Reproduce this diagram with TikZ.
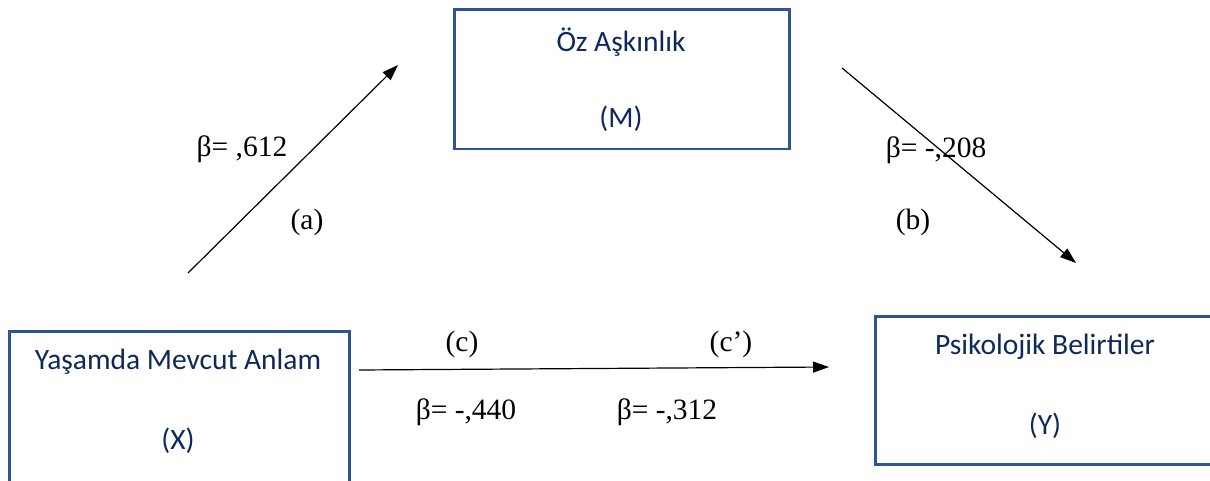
\documentclass[tikz,border=0pt]{standalone}
\usepackage{fontspec}
\setmainfont{Liberation Serif}
\newfontfamily\boxfont{Carlito}
\usetikzlibrary{arrows.meta}
\definecolor{boxborder}{RGB}{47,84,150}
\definecolor{boxtext}{RGB}{14,40,94}
\tikzset{
  varbox/.style={draw=boxborder, line width=2.5pt, fill=none},
  boxlabel/.style={font=\boxfont\fontsize{29.5}{34}\selectfont, text=boxtext, inner sep=0pt},
  coef/.style={font=\fontsize{29.5}{34}\selectfont, text=black, inner sep=0pt},
  path/.style={draw=black, line width=1.2pt, -{Triangle[length=16pt,width=11pt]}}
}
\begin{document}
\begin{tikzpicture}[x=1pt,y=-1pt]
\useasboundingbox (0,0) rectangle (1210,481);
\begin{scope}
\clip (0,0) rectangle (1210,481);
% boxes
\node[varbox, minimum width=335pt, minimum height=139.5pt, anchor=north west] (M) at (453,8.5) {};
\node[varbox, minimum width=340pt, minimum height=180pt, anchor=north west] (X) at (8,330) {};
\node[varbox, minimum width=345pt, minimum height=148pt, anchor=north west] (Y) at (874,315) {};
\end{scope}
% box texts
\node[boxlabel] (Mt) at (621,42) {Öz Aşkınlık};
\node[boxlabel] (Mv) at (621,119) {(M)};
\node[boxlabel] (Xt) at (178,362) {Yaşamda Mevcut Anlam};
\node[boxlabel] (Xv) at (178,441) {(X)};
\node[boxlabel] (Yt) at (1045,347) {Psikolojik Belirtiler};
\node[boxlabel] (Yv) at (1045,426) {(Y)};
% connector end points
\coordinate (aS) at (188,273);
\coordinate (aE) at (398,65);
\coordinate (bS) at (842,68);
\coordinate (bE) at (1076,263);
\coordinate (cS) at (359,370);
\coordinate (cE) at (829,367);
\draw[path] (aS) -- (aE);
\draw[path] (bS) -- (bE);
\draw[path] (cS) -- (cE);
% coefficients
\node[coef] (la) at (242,149) {β= ,612};
\node[coef] (pa) at (307,222) {(a)};
\node[coef] (lb) at (936,150) {β= -,208};
\node[coef] (pb) at (913,222) {(b)};
\node[coef] (pc) at (462,344) {(c)};
\node[coef] (pc2) at (731,344) {(c’)};
\node[coef] (lc) at (466,412) {β= -,440};
\node[coef] (lc2) at (667,412) {β= -,312};
\end{tikzpicture}
\end{document}
